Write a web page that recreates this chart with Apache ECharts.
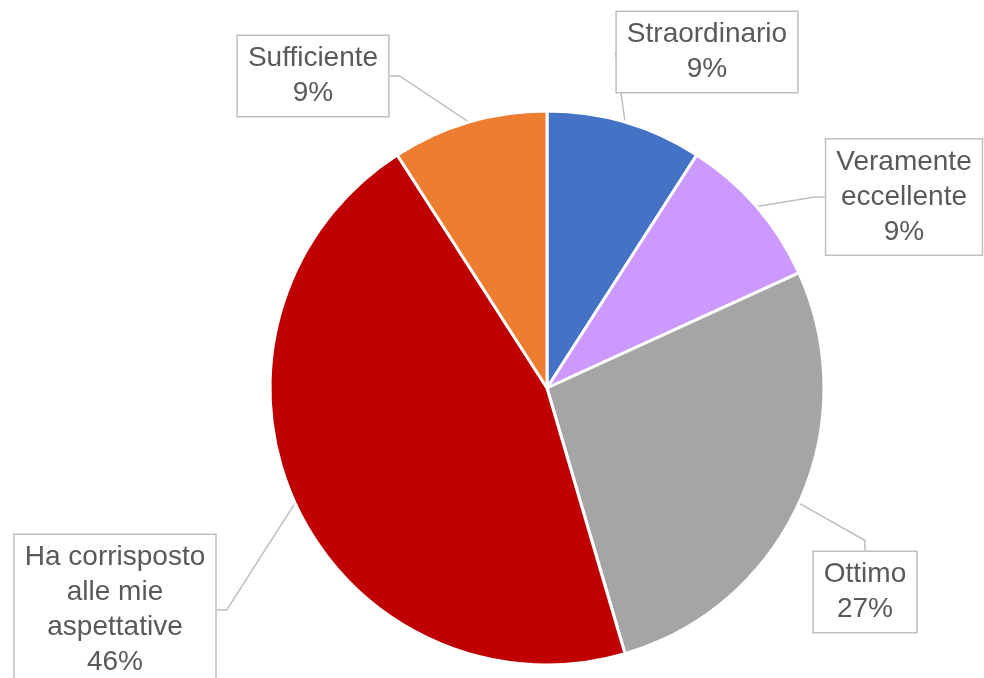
<!DOCTYPE html>
<html>
<head>
<meta charset="utf-8">
<script src="https://cdn.jsdelivr.net/npm/echarts@6/dist/echarts.min.js"></script>
<style>
  html, body { margin: 0; padding: 0; background: #fff; }
  #chart { width: 984px; height: 678px; }
</style>
</head>
<body>
<div id="chart"></div>
<script>
const categories = ['Straordinario', 'Veramente\neccellente', 'Ottimo', 'Ha corrisposto\nalle mie\naspettative', 'Sufficiente']
const values = [1, 1, 3, 5, 1]
const colors = ['#4472C4', '#CC99FF', '#A5A5A5', '#C00000', '#ED7D31']
// label box centres (callouts placed by hand like in the original)
const labelSpots = [[707, 52], [904, 197], [865, 592], [115, 610], [313, 76]]

const chart = echarts.init(document.getElementById('chart'))
chart.setOption({
  animation: false,
  series: [
    {
      type: 'pie',
      center: [547, 388],
      radius: 277,
      startAngle: 90,
      clockwise: true,
      percentPrecision: 0,
      data: categories.map((name, i) => ({
        name,
        value: values[i],
        itemStyle: { color: colors[i] },
      })),
      itemStyle: { borderColor: '#fff', borderWidth: 3 },
      label: {
        show: true,
        formatter: '{b}\n{d}%',
        fontFamily: 'Liberation Sans, Arial, sans-serif',
        fontSize: 28,
        lineHeight: 35,
        color: '#595959',
        align: 'center',
        backgroundColor: '#fff',
        borderColor: '#BFBFBF',
        borderWidth: 1.5,
        padding: [5, 10, 5, 10],
      },
      labelLine: {
        show: true,
        length: 10,
        length2: 10,
        lineStyle: { color: '#BFBFBF', width: 1.5 },
      },
      labelLayout: (params) => {
        const spot = labelSpots[params.dataIndex]
        return { x: spot[0], y: spot[1], align: 'center', verticalAlign: 'middle' }
      },
    },
  ],
})
</script>
</body>
</html>
